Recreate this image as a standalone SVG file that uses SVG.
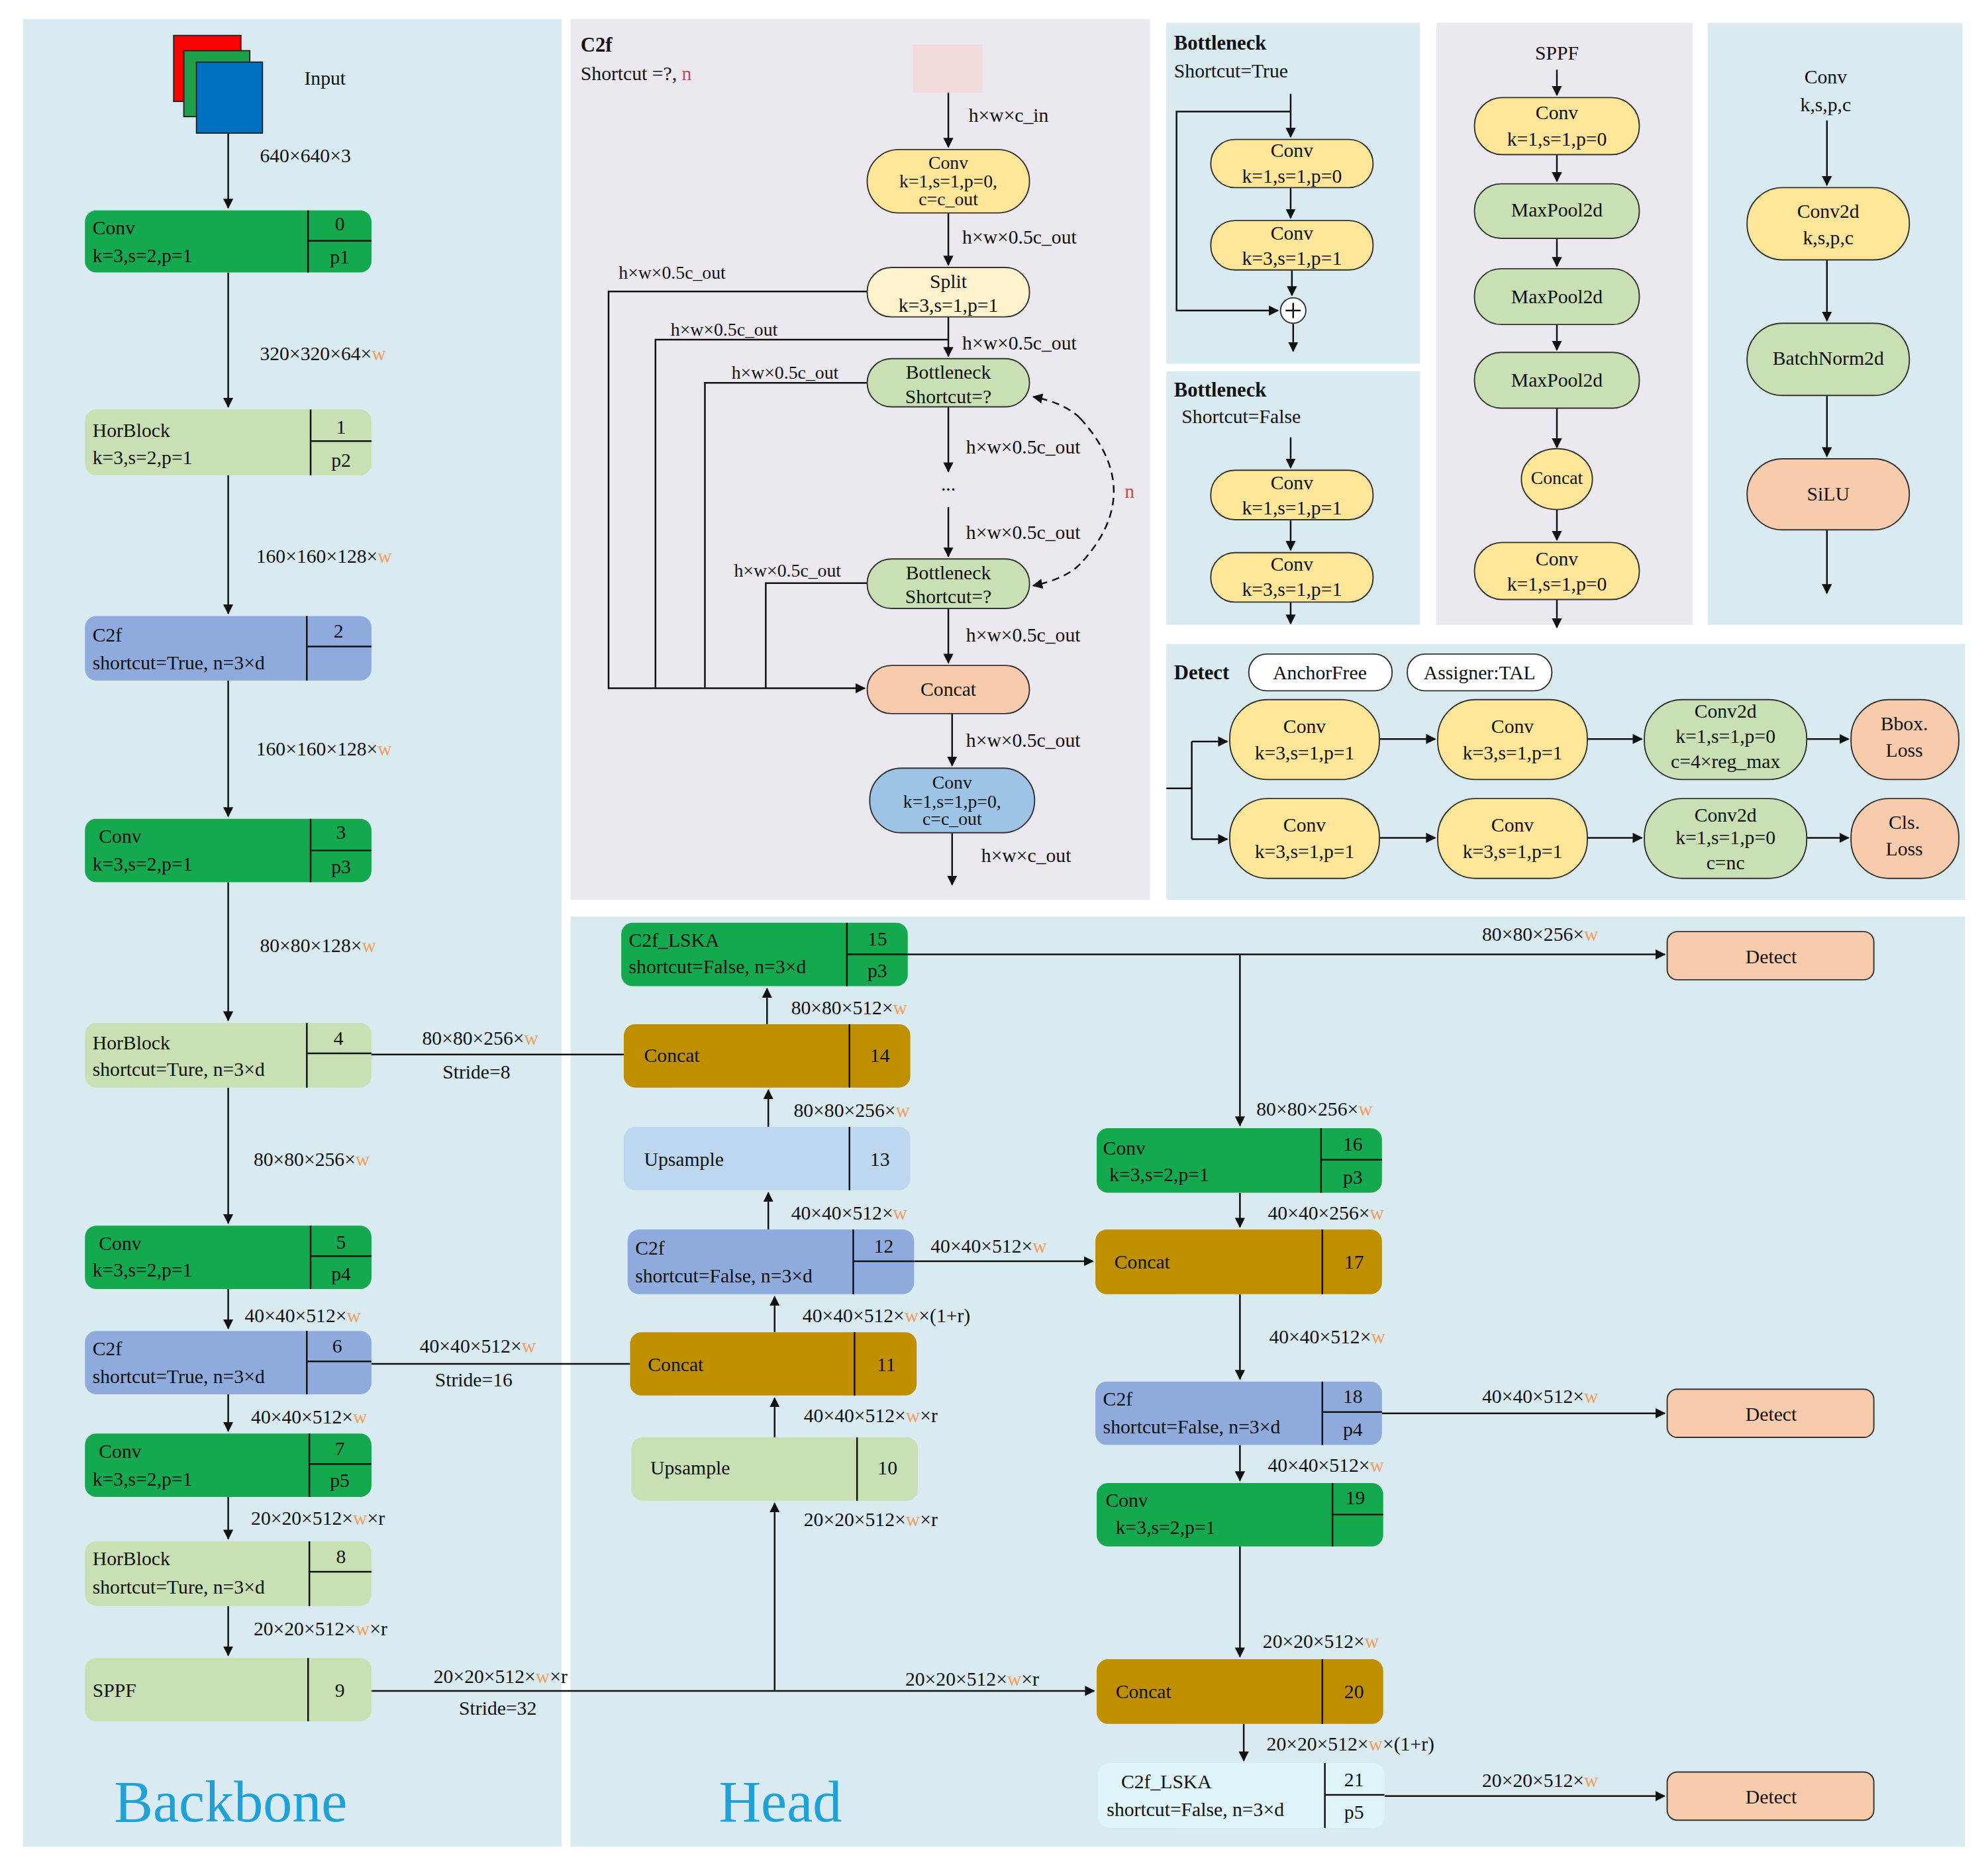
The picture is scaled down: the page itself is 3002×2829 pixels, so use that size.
<svg xmlns="http://www.w3.org/2000/svg" width="3002" height="2829" viewBox="0 0 3002 2829">
<style>
text{font-family:"Liberation Serif","Times New Roman",serif;font-size:15.5px;fill:#111}
.b{font-weight:bold;font-size:16px}
.w{fill:#f0a060}
.r{fill:#c0504d}
.c{text-anchor:middle}
.t{font-size:14.5px}
.pan1{fill:#daeaf1}
.pan2{fill:#ebe8ef}
.ln{stroke:#111;stroke-width:1.3;fill:none}
.nd{stroke:#333;stroke-width:1}
.g{fill:#14a94e}.lg{fill:#c8e0b4}.bl{fill:#8faadc}.au{fill:#bf8f00}.ub{fill:#bdd7ee}.cy{fill:#dff4f8}.sa{fill:#f8cbad}.ye{fill:#ffe699}.ly{fill:#fff2cc}.mb{fill:#9dc3e6}
.big{font-family:"Liberation Serif",serif;font-size:46px;fill:#1ea0d8}
</style>
<defs>
<marker id="a" viewBox="0 0 10 10" refX="9" refY="5" markerWidth="8" markerHeight="8" orient="auto" markerUnits="userSpaceOnUse"><path d="M0,0L10,5L0,10z" fill="#111"/></marker>
</defs>
<rect width="3002" height="2829" fill="#fff"/>
<g transform="scale(1.9145,1.9145)">
<g id="panels">
<rect class="pan1" x="18" y="15" width="425" height="1442"/>
<rect class="pan2" x="450" y="15" width="457" height="695"/>
<rect class="pan1" x="920" y="18" width="200" height="269"/>
<rect class="pan1" x="920" y="293" width="200" height="200"/>
<rect class="pan2" x="1133" y="18" width="202" height="475"/>
<rect class="pan1" x="1347" y="18" width="201" height="475"/>
<rect class="pan1" x="920" y="508" width="630" height="202"/>
<rect class="pan1" x="450" y="723" width="1100" height="734"/>
<text class="big" x="90" y="1437">Backbone</text>
<text class="big" x="567" y="1437">Head</text>
</g>

<g id="connectors">
<path class="ln" d="M180,105V164" marker-end="url(#a)"/><text x="205" y="128">640×640×3</text>
<path class="ln" d="M180,215V321" marker-end="url(#a)"/><text x="205" y="284">320×320×64×<tspan class="w">w</tspan></text>
<path class="ln" d="M180,375V484" marker-end="url(#a)"/><text x="202" y="444">160×160×128×<tspan class="w">w</tspan></text>
<path class="ln" d="M180,537V644" marker-end="url(#a)"/><text x="202" y="596">160×160×128×<tspan class="w">w</tspan></text>
<path class="ln" d="M180,696V805" marker-end="url(#a)"/><text x="205" y="751">80×80×128×<tspan class="w">w</tspan></text>
<path class="ln" d="M180,858V965" marker-end="url(#a)"/><text x="200" y="920">80×80×256×<tspan class="w">w</tspan></text>
<path class="ln" d="M180,1017V1048" marker-end="url(#a)"/><text x="193" y="1043">40×40×512×<tspan class="w">w</tspan></text>
<path class="ln" d="M180,1100V1129" marker-end="url(#a)"/><text x="198" y="1123">40×40×512×<tspan class="w">w</tspan></text>
<path class="ln" d="M180,1181V1214" marker-end="url(#a)"/><text x="198" y="1203">20×20×512×<tspan class="w">w</tspan>×r</text>
<path class="ln" d="M180,1267V1306" marker-end="url(#a)"/><text x="200" y="1290">20×20×512×<tspan class="w">w</tspan>×r</text>
<path class="ln" d="M293,832H492"/><text x="333" y="824">80×80×256×<tspan class="w">w</tspan></text><text x="349" y="851">Stride=8</text>
<path class="ln" d="M293,1076H497"/><text x="331" y="1067">40×40×512×<tspan class="w">w</tspan></text><text x="343" y="1094">Stride=16</text>
<path class="ln" d="M293,1334H863" marker-end="url(#a)"/><text x="342" y="1328">20×20×512×<tspan class="w">w</tspan>×r</text><text x="362" y="1353">Stride=32</text><text x="714" y="1330">20×20×512×<tspan class="w">w</tspan>×r</text>
<path class="ln" d="M611,1334V1186" marker-end="url(#a)"/><text x="634" y="1204">20×20×512×<tspan class="w">w</tspan>×r</text>
<path class="ln" d="M611,1134V1103" marker-end="url(#a)"/><text x="634" y="1122">40×40×512×<tspan class="w">w</tspan>×r</text>
<path class="ln" d="M611,1051V1023" marker-end="url(#a)"/><text x="633" y="1043">40×40×512×<tspan class="w">w</tspan>×(1+r)</text>
<path class="ln" d="M606,970V941" marker-end="url(#a)"/><text x="624" y="962">40×40×512×<tspan class="w">w</tspan></text>
<path class="ln" d="M606,889V860" marker-end="url(#a)"/><text x="626" y="881">80×80×256×<tspan class="w">w</tspan></text>
<path class="ln" d="M605,808V780" marker-end="url(#a)"/><text x="624" y="800">80×80×512×<tspan class="w">w</tspan></text>
<path class="ln" d="M716,753H1313" marker-end="url(#a)"/><text x="1169" y="742">80×80×256×<tspan class="w">w</tspan></text>
<path class="ln" d="M978,753V888" marker-end="url(#a)"/><text x="991" y="880">80×80×256×<tspan class="w">w</tspan></text>
<path class="ln" d="M978,941V968" marker-end="url(#a)"/><text x="1000" y="962">40×40×256×<tspan class="w">w</tspan></text>
<path class="ln" d="M721,995H862" marker-end="url(#a)"/><text x="734" y="988">40×40×512×<tspan class="w">w</tspan></text>
<path class="ln" d="M978,1021V1088" marker-end="url(#a)"/><text x="1001" y="1060">40×40×512×<tspan class="w">w</tspan></text>
<path class="ln" d="M1090,1115H1313" marker-end="url(#a)"/><text x="1169" y="1107">40×40×512×<tspan class="w">w</tspan></text>
<path class="ln" d="M978,1140V1168" marker-end="url(#a)"/><text x="1000" y="1161">40×40×512×<tspan class="w">w</tspan></text>
<path class="ln" d="M978,1220V1307" marker-end="url(#a)"/><text x="996" y="1300">20×20×512×<tspan class="w">w</tspan></text>
<path class="ln" d="M981,1360V1389" marker-end="url(#a)"/><text x="999" y="1381">20×20×512×<tspan class="w">w</tspan>×(1+r)</text>
<path class="ln" d="M1092,1417H1313" marker-end="url(#a)"/><text x="1169" y="1410">20×20×512×<tspan class="w">w</tspan></text>
<path class="ln" d="M748,73V116" marker-end="url(#a)"/><text x="764" y="96">h×w×c_in</text>
<path class="ln" d="M748,168V209" marker-end="url(#a)"/><text x="759" y="192">h×w×0.5c_out</text>
<path class="ln" d="M684,230H480V543H682" marker-end="url(#a)"/><text class="t" x="488" y="220">h×w×0.5c_out</text>
<path class="ln" d="M748,268H517V543"/><text class="t" x="529" y="265">h×w×0.5c_out</text>
<path class="ln" d="M748,250V281" marker-end="url(#a)"/><text x="759" y="276">h×w×0.5c_out</text>
<path class="ln" d="M684,302H556V543"/><text class="t" x="577" y="299">h×w×0.5c_out</text>
<path class="ln" d="M748,321V372" marker-end="url(#a)"/><text x="762" y="358">h×w×0.5c_out</text>
<text class="c" x="748" y="387">...</text>
<path class="ln" d="M748,400V439" marker-end="url(#a)"/><text x="762" y="425">h×w×0.5c_out</text>
<path class="ln" d="M684,460H604V543"/><text class="t" x="579" y="455">h×w×0.5c_out</text>
<path class="ln" d="M748,480V523" marker-end="url(#a)"/><text x="762" y="506">h×w×0.5c_out</text>
<path class="ln" d="M751,563V604" marker-end="url(#a)"/><text x="762" y="589">h×w×0.5c_out</text>
<path class="ln" d="M751,657V698" marker-end="url(#a)"/><text x="774" y="680">h×w×c_out</text>
<path class="ln" d="M852,330Q905,388 852,445" stroke-dasharray="6,4"/>
<path class="ln" d="M852,330Q840,318 815,313" stroke-dasharray="6,4" marker-end="url(#a)"/>
<path class="ln" d="M852,445Q840,457 815,462" stroke-dasharray="6,4" marker-end="url(#a)"/>
<text class="r" x="887" y="393">n</text>
<path class="ln" d="M1018,74V108" marker-end="url(#a)"/>
<path class="ln" d="M1018,88H928V245H1008" marker-end="url(#a)"/>
<path class="ln" d="M1018,148V172" marker-end="url(#a)"/>
<path class="ln" d="M1019,213V233" marker-end="url(#a)"/>
<path class="ln" d="M1020,255V277" marker-end="url(#a)"/>
<path class="ln" d="M1018,345V369" marker-end="url(#a)"/>
<path class="ln" d="M1018,410V434" marker-end="url(#a)"/>
<path class="ln" d="M1018,475V492" marker-end="url(#a)"/>
<path class="ln" d="M1228,55V75" marker-end="url(#a)"/>
<path class="ln" d="M1228,122V143" marker-end="url(#a)"/>
<path class="ln" d="M1228,188V210" marker-end="url(#a)"/>
<path class="ln" d="M1228,256V276" marker-end="url(#a)"/>
<path class="ln" d="M1228,322V353" marker-end="url(#a)"/>
<path class="ln" d="M1228,402V426" marker-end="url(#a)"/>
<path class="ln" d="M1228,473V495" marker-end="url(#a)"/>
<path class="ln" d="M1441,95V146" marker-end="url(#a)"/>
<path class="ln" d="M1441,205V253" marker-end="url(#a)"/>
<path class="ln" d="M1441,312V360" marker-end="url(#a)"/>
<path class="ln" d="M1441,418V468" marker-end="url(#a)"/>
<path class="ln" d="M920,622H940M940,585V662"/>
<path class="ln" d="M940,585H968" marker-end="url(#a)"/>
<path class="ln" d="M940,662H968" marker-end="url(#a)"/>
<path class="ln" d="M1088,583H1132" marker-end="url(#a)"/>
<path class="ln" d="M1252,583H1295" marker-end="url(#a)"/>
<path class="ln" d="M1425,583H1458" marker-end="url(#a)"/>
<path class="ln" d="M1088,661H1132" marker-end="url(#a)"/>
<path class="ln" d="M1252,661H1295" marker-end="url(#a)"/>
<path class="ln" d="M1425,661H1458" marker-end="url(#a)"/>
</g>

<g id="input">
<rect x="137" y="28" width="53" height="52" fill="#f00" stroke="#222"/>
<rect x="145" y="40" width="52" height="52" fill="#1ea04a" stroke="#222"/>
<rect x="155" y="49" width="52" height="56" fill="#0070c0" stroke="#222"/>
<text x="240" y="67">Input</text>
</g>

<g id="n0"><rect class="g" x="67" y="166" width="226" height="49" rx="9"/><path class="ln" d="M243,166V215M243,190H293"/><text x="73" y="185">Conv</text><text x="73" y="207">k=3,s=2,p=1</text><text class="c" x="268" y="182">0</text><text class="c" x="268" y="208">p1</text></g>
<g id="n1"><rect class="lg" x="67" y="323" width="226" height="52" rx="9"/><path class="ln" d="M245,323V375M245,348H293"/><text x="73" y="345">HorBlock</text><text x="73" y="366">k=3,s=2,p=1</text><text class="c" x="269" y="342">1</text><text class="c" x="269" y="368">p2</text></g>
<g id="n2"><rect class="bl" x="67" y="486" width="226" height="51" rx="9"/><path class="ln" d="M242,486V537M242,510H293"/><text x="73" y="506">C2f</text><text x="73" y="528">shortcut=True, n=3×d</text><text class="c" x="267" y="503">2</text></g>
<g id="n3"><rect class="g" x="67" y="646" width="226" height="50" rx="9"/><path class="ln" d="M245,646V696M245,671H293"/><text x="78" y="665">Conv</text><text x="73" y="687">k=3,s=2,p=1</text><text class="c" x="269" y="662">3</text><text class="c" x="269" y="689">p3</text></g>
<g id="n4"><rect class="lg" x="67" y="807" width="226" height="51" rx="9"/><path class="ln" d="M242,807V858M242,831H293"/><text x="73" y="828">HorBlock</text><text x="73" y="849">shortcut=Ture, n=3×d</text><text class="c" x="267" y="824">4</text></g>
<g id="n5"><rect class="g" x="67" y="967" width="226" height="50" rx="9"/><path class="ln" d="M245,967V1017M245,991H293"/><text x="78" y="986">Conv</text><text x="73" y="1007">k=3,s=2,p=1</text><text class="c" x="269" y="985">5</text><text class="c" x="269" y="1010">p4</text></g>
<g id="n6"><rect class="bl" x="67" y="1050" width="226" height="50" rx="9"/><path class="ln" d="M242,1050V1100M242,1074H293"/><text x="73" y="1069">C2f</text><text x="73" y="1091">shortcut=True, n=3×d</text><text class="c" x="266" y="1067">6</text></g>
<g id="n7"><rect class="g" x="67" y="1131" width="226" height="50" rx="9"/><path class="ln" d="M244,1131V1181M244,1155H293"/><text x="78" y="1150">Conv</text><text x="73" y="1172">k=3,s=2,p=1</text><text class="c" x="268" y="1148">7</text><text class="c" x="268" y="1173">p5</text></g>
<g id="n8"><rect class="lg" x="67" y="1216" width="226" height="51" rx="9"/><path class="ln" d="M244,1216V1267M244,1240H293"/><text x="73" y="1235">HorBlock</text><text x="73" y="1257">shortcut=Ture, n=3×d</text><text class="c" x="269" y="1233">8</text></g>
<g id="n9"><rect class="lg" x="67" y="1308" width="226" height="50" rx="9"/><path class="ln" d="M243,1308V1358"/><text x="73" y="1339">SPPF</text><text class="c" x="268" y="1339">9</text></g>

<g id="n15"><rect class="g" x="490" y="728" width="226" height="50" rx="9"/><path class="ln" d="M668,728V778M668,753H716"/><text x="496" y="747">C2f_LSKA</text><text x="496" y="768">shortcut=False, n=3×d</text><text class="c" x="692" y="746">15</text><text class="c" x="692" y="771">p3</text></g>
<g id="n14"><rect class="au" x="492" y="808" width="226" height="50" rx="9"/><path class="ln" d="M670,808V858"/><text x="508" y="838">Concat</text><text class="c" x="694" y="838">14</text></g>
<g id="n13"><rect class="ub" x="492" y="889" width="226" height="50" rx="9"/><path class="ln" d="M670,889V939"/><text x="508" y="920">Upsample</text><text class="c" x="694" y="920">13</text></g>
<g id="n12"><rect class="bl" x="495" y="970" width="226" height="51" rx="9"/><path class="ln" d="M673,970V1021M673,995H721"/><text x="501" y="990">C2f</text><text x="501" y="1012">shortcut=False, n=3×d</text><text class="c" x="697" y="988">12</text></g>
<g id="n11"><rect class="au" x="497" y="1051" width="226" height="50" rx="9"/><path class="ln" d="M674,1051V1101"/><text x="511" y="1082">Concat</text><text class="c" x="699" y="1082">11</text></g>
<g id="n10"><rect class="lg" x="498" y="1134" width="226" height="50" rx="9"/><path class="ln" d="M676,1134V1184"/><text x="513" y="1163">Upsample</text><text class="c" x="700" y="1163">10</text></g>
<g id="n16"><rect class="g" x="865" y="890" width="225" height="51" rx="9"/><path class="ln" d="M1042,890V941M1042,915H1090"/><text x="870" y="911">Conv</text><text x="875" y="932">k=3,s=2,p=1</text><text class="c" x="1067" y="908">16</text><text class="c" x="1067" y="934">p3</text></g>
<g id="n17"><rect class="au" x="864" y="970" width="226" height="51" rx="9"/><path class="ln" d="M1043,970V1021"/><text x="879" y="1001">Concat</text><text class="c" x="1068" y="1001">17</text></g>
<g id="n18"><rect class="bl" x="864" y="1090" width="226" height="50" rx="9"/><path class="ln" d="M1043,1090V1140M1043,1114H1090"/><text x="870" y="1109">C2f</text><text x="870" y="1131">shortcut=False, n=3×d</text><text class="c" x="1067" y="1107">18</text><text class="c" x="1067" y="1133">p4</text></g>
<g id="n19"><rect class="g" x="865" y="1170" width="226" height="50" rx="9"/><path class="ln" d="M1051,1170V1220M1051,1195H1091"/><text x="872" y="1189">Conv</text><text x="880" y="1210">k=3,s=2,p=1</text><text class="c" x="1069" y="1187">19</text></g>
<g id="n20"><rect class="au" x="865" y="1309" width="226" height="51" rx="9"/><path class="ln" d="M1043,1309V1360"/><text x="880" y="1340">Concat</text><text class="c" x="1068" y="1340">20</text></g>
<g id="n21"><rect class="cy" x="866" y="1391" width="226" height="51" rx="9"/><path class="ln" d="M1045,1391V1442M1045,1416H1092"/><text class="c" x="920" y="1411">C2f_LSKA</text><text x="873" y="1433">shortcut=False, n=3×d</text><text class="c" x="1068" y="1409">21</text><text class="c" x="1068" y="1435">p5</text></g>
<g id="d1"><rect class="sa nd" x="1315" y="735" width="163" height="38" rx="8"/><text class="c" x="1397" y="760">Detect</text></g>
<g id="d2"><rect class="sa nd" x="1315" y="1096" width="163" height="38" rx="8"/><text class="c" x="1397" y="1121">Detect</text></g>
<g id="d3"><rect class="sa nd" x="1315" y="1398" width="163" height="38" rx="8"/><text class="c" x="1397" y="1423">Detect</text></g>

<g id="c2f">
<text class="b" x="458" y="41">C2f</text><text x="458" y="63">Shortcut =?, <tspan class="r">n</tspan></text>
<rect x="720" y="35" width="55" height="38" fill="#f2dcdb"/>
<rect class="ye nd" x="684" y="118" width="128" height="50" rx="25"/><text class="c t" x="748" y="133">Conv</text><text class="c t" x="748" y="148">k=1,s=1,p=0,</text><text class="c t" x="748" y="162">c=c_out</text>
<rect class="ly nd" x="684" y="211" width="128" height="39" rx="19"/><text class="c" x="748" y="227">Split</text><text class="c" x="748" y="246">k=3,s=1,p=1</text>
<rect class="lg nd" x="684" y="283" width="128" height="38" rx="19"/><text class="c" x="748" y="299">Bottleneck</text><text class="c" x="748" y="318">Shortcut=?</text>
<rect class="lg nd" x="684" y="441" width="128" height="39" rx="19"/><text class="c" x="748" y="457">Bottleneck</text><text class="c" x="748" y="476">Shortcut=?</text>
<rect class="sa nd" x="684" y="525" width="128" height="38" rx="19"/><text class="c" x="748" y="549">Concat</text>
<rect class="mb nd" x="686" y="606" width="130" height="51" rx="25"/><text class="c t" x="751" y="622">Conv</text><text class="c t" x="751" y="637">k=1,s=1,p=0,</text><text class="c t" x="751" y="651">c=c_out</text>
</g>
<g id="bottleneck">
<text class="b" x="926" y="39">Bottleneck</text><text x="926" y="61">Shortcut=True</text>
<rect class="ye nd" x="955" y="110" width="128" height="38" rx="19"/><text class="c" x="1019" y="124">Conv</text><text class="c" x="1019" y="144">k=1,s=1,p=0</text>
<rect class="ye nd" x="955" y="174" width="128" height="39" rx="19"/><text class="c" x="1019" y="189">Conv</text><text class="c" x="1019" y="209">k=3,s=1,p=1</text>
<circle cx="1020" cy="245" r="10" fill="#fff" stroke="#333"/><path class="ln" d="M1014,245H1026M1020,239V251"/>
<text class="b" x="926" y="313">Bottleneck</text><text x="932" y="334">Shortcut=False</text>
<rect class="ye nd" x="955" y="371" width="128" height="39" rx="19"/><text class="c" x="1019" y="386">Conv</text><text class="c" x="1019" y="406">k=1,s=1,p=1</text>
<rect class="ye nd" x="955" y="436" width="128" height="39" rx="19"/><text class="c" x="1019" y="450">Conv</text><text class="c" x="1019" y="470">k=3,s=1,p=1</text>
</g>
<g id="sppf">
<text class="c" x="1228" y="47">SPPF</text>
<rect class="ye nd" x="1163" y="77" width="130" height="45" rx="22"/><text class="c" x="1228" y="94">Conv</text><text class="c" x="1228" y="115">k=1,s=1,p=0</text>
<rect class="lg nd" x="1163" y="145" width="130" height="43" rx="21"/><text class="c" x="1228" y="171">MaxPool2d</text>
<rect class="lg nd" x="1163" y="212" width="130" height="44" rx="21"/><text class="c" x="1228" y="239">MaxPool2d</text>
<rect class="lg nd" x="1163" y="278" width="130" height="44" rx="21"/><text class="c" x="1228" y="305">MaxPool2d</text>
<ellipse class="ye nd" cx="1228" cy="378" rx="28" ry="24"/><text class="c t" x="1228" y="382">Concat</text>
<rect class="ye nd" x="1163" y="428" width="130" height="45" rx="22"/><text class="c" x="1228" y="446">Conv</text><text class="c" x="1228" y="466">k=1,s=1,p=0</text>
</g>
<g id="convpanel">
<text class="c" x="1440" y="66">Conv</text><text class="c" x="1440" y="88">k,s,p,c</text>
<rect class="ye nd" x="1378" y="148" width="128" height="57" rx="28"/><text class="c" x="1442" y="172">Conv2d</text><text class="c" x="1442" y="193">k,s,p,c</text>
<rect class="lg nd" x="1378" y="255" width="128" height="57" rx="28"/><text class="c" x="1442" y="288">BatchNorm2d</text>
<rect class="sa nd" x="1378" y="362" width="128" height="56" rx="28"/><text class="c" x="1442" y="395">SiLU</text>
</g>
<g id="detectpanel">
<text class="b" x="926" y="536">Detect</text>
<rect x="985" y="516" width="113" height="29" rx="14" fill="#fff" stroke="#333"/><text class="c" x="1041" y="536">AnchorFree</text>
<rect x="1110" y="516" width="114" height="29" rx="14" fill="#fff" stroke="#333"/><text class="c" x="1167" y="536">Assigner:TAL</text>
<rect class="ye nd" x="970" y="552" width="118" height="63" rx="30"/><text class="c" x="1029" y="578">Conv</text><text class="c" x="1029" y="599">k=3,s=1,p=1</text>
<rect class="ye nd" x="1134" y="552" width="118" height="63" rx="30"/><text class="c" x="1193" y="578">Conv</text><text class="c" x="1193" y="599">k=3,s=1,p=1</text>
<rect class="lg nd" x="1297" y="552" width="128" height="63" rx="30"/><text class="c" x="1361" y="566">Conv2d</text><text class="c" x="1361" y="586">k=1,s=1,p=0</text><text class="c" x="1361" y="606">c=4×reg_max</text>
<rect class="sa nd" x="1460" y="552" width="85" height="63" rx="30"/><text class="c" x="1502" y="576">Bbox.</text><text class="c" x="1502" y="597">Loss</text>
<rect class="ye nd" x="970" y="630" width="118" height="63" rx="30"/><text class="c" x="1029" y="656">Conv</text><text class="c" x="1029" y="677">k=3,s=1,p=1</text>
<rect class="ye nd" x="1134" y="630" width="118" height="63" rx="30"/><text class="c" x="1193" y="656">Conv</text><text class="c" x="1193" y="677">k=3,s=1,p=1</text>
<rect class="lg nd" x="1297" y="630" width="128" height="63" rx="30"/><text class="c" x="1361" y="648">Conv2d</text><text class="c" x="1361" y="666">k=1,s=1,p=0</text><text class="c" x="1361" y="686">c=nc</text>
<rect class="sa nd" x="1460" y="630" width="85" height="63" rx="30"/><text class="c" x="1502" y="654">Cls.</text><text class="c" x="1502" y="675">Loss</text>
</g>
</g>
</svg>
